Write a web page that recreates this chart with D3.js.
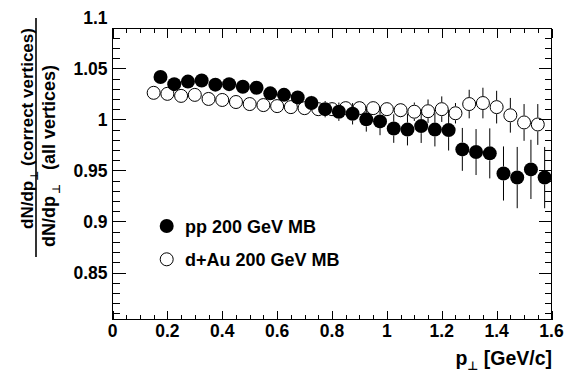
<!DOCTYPE html>
<html><head><meta charset="utf-8">
<script src="https://cdn.jsdelivr.net/npm/d3@7"></script>
<style>body{margin:0;background:#fff}</style>
</head><body>
<svg id="c" width="564" height="377" xmlns="http://www.w3.org/2000/svg"></svg>
<script>
// ---- data ----
const ppPt    = [0.175,0.225,0.275,0.325,0.375,0.425,0.475,0.525,0.575,0.625,0.675,0.725,0.775,0.825,0.875,0.925,0.975,1.025,1.075,1.125,1.175,1.225,1.275,1.325,1.375,1.425,1.475,1.525,1.575];
const ppRatio = [1.0415,1.0345,1.037,1.038,1.034,1.0345,1.032,1.031,1.0255,1.024,1.0215,1.016,1.010,1.0075,1.0055,1.000,0.998,0.991,0.990,0.9934,0.990,0.9895,0.9706,0.968,0.9667,0.947,0.943,0.951,0.943];
const ppErr   = [0.002,0.002,0.002,0.003,0.003,0.003,0.003,0.004,0.004,0.005,0.006,0.007,0.008,0.009,0.0105,0.012,0.0135,0.014,0.0155,0.0165,0.0165,0.020,0.021,0.0225,0.0245,0.0265,0.030,0.029,0.030];
const dauPt    = [0.15,0.20,0.25,0.30,0.35,0.40,0.45,0.50,0.55,0.60,0.65,0.70,0.75,0.80,0.85,0.90,0.95,1.00,1.05,1.10,1.15,1.20,1.25,1.30,1.35,1.40,1.45,1.50,1.55];
const dauRatio = [1.026,1.025,1.023,1.024,1.020,1.019,1.017,1.015,1.014,1.013,1.012,1.011,1.010,1.010,1.011,1.011,1.011,1.010,1.009,1.0075,1.008,1.010,1.006,1.015,1.016,1.012,1.004,0.997,0.995];
const dauErr   = [0.001,0.001,0.001,0.001,0.002,0.002,0.002,0.002,0.002,0.003,0.003,0.003,0.003,0.004,0.004,0.005,0.006,0.006,0.007,0.009,0.0115,0.0125,0.010,0.014,0.015,0.016,0.017,0.018,0.020];
const xTickLabels = ["0","0.2","0.4","0.6","0.8","1","1.2","1.4","1.6"];
const yTickLabels = ["0.85","0.9","0.95","1","1.05","1.1"];
const legendLabels = ["pp 200 GeV MB","d+Au 200 GeV MB"];

// ---- layout ----
const FONT = "'Liberation Sans', Arial, Helvetica, sans-serif";
const svg = d3.select("#c");
const x = d3.scaleLinear().domain([0,1.6]).range([112.5,551.5]);
const y = d3.scaleLinear().domain([0.804,1.089]).range([319.5,28.5]);
const [x0,x1] = x.range(), [yb,yt] = y.range();
const R = 7;

// axes (ticks only)
const xMajor = xTickLabels.map(Number);
const xMinor = d3.range(0,1.6001,0.05).filter(v => !xMajor.some(m => Math.abs(m-v)<1e-6));
const yMajor = yTickLabels.map(Number).filter(v => v>=y.domain()[0] && v<=y.domain()[1]);
const yMinor = d3.range(0.81,1.0891,0.01).filter(v => !yMajor.some(m => Math.abs(m-v)<1e-6));

function axis(gen, tr){
  const g = svg.append("g").attr("transform",tr).call(gen);
  g.select(".domain").remove();
  g.selectAll("line").attr("stroke","#000").attr("stroke-width",1).attr("shape-rendering","crispEdges");
  g.selectAll("text").remove();
}
axis(d3.axisBottom(x).tickValues(xMajor).tickSize(-9).tickFormat(""), `translate(0,${yb})`);
axis(d3.axisBottom(x).tickValues(xMinor).tickSize(-4.5).tickFormat(""), `translate(0,${yb})`);
axis(d3.axisTop(x).tickValues(xMajor).tickSize(-9).tickFormat(""), `translate(0,${yt})`);
axis(d3.axisTop(x).tickValues(xMinor).tickSize(-4.5).tickFormat(""), `translate(0,${yt})`);
axis(d3.axisLeft(y).tickValues(yMajor).tickSize(-13).tickFormat(""), `translate(${x0},0)`);
axis(d3.axisLeft(y).tickValues(yMinor).tickSize(-7).tickFormat(""), `translate(${x0},0)`);
axis(d3.axisRight(y).tickValues(yMajor).tickSize(-13).tickFormat(""), `translate(${x1},0)`);
axis(d3.axisRight(y).tickValues(yMinor).tickSize(-7).tickFormat(""), `translate(${x1},0)`);

svg.append("rect").attr("x",x0).attr("y",yt).attr("width",x1-x0).attr("height",yb-yt)
  .attr("fill","none").attr("stroke","#000").attr("stroke-width",1).attr("shape-rendering","crispEdges");

// tick labels
svg.append("g").selectAll("text").data(xTickLabels).join("text")
  .attr("x",d=>x(+d)).attr("y",337).attr("text-anchor","middle")
  .attr("font-family",FONT).attr("font-weight","bold").attr("font-size",17.5).text(d=>d);
svg.append("g").selectAll("text").data(yTickLabels).join("text")
  .attr("x",107.5).attr("y",d=>y(+d)).attr("dy","0.36em").attr("text-anchor","end")
  .attr("font-family",FONT).attr("font-weight","bold").attr("font-size",17.5).text(d=>d);

// axis titles
const xt = svg.append("text").attr("x",552).attr("y",365).attr("text-anchor","end")
  .attr("font-family",FONT).attr("font-weight","bold").attr("font-size",19.5);
xt.append("tspan").text("p");
xt.append("tspan").attr("dy",5).attr("font-size",12).attr("font-family","'DejaVu Sans'").text("\u22A5");
xt.append("tspan").attr("dy",-5).text(" [GeV/c]");

const gT = svg.append("g").attr("transform","translate(36,137) rotate(-90)");
gT.append("line").attr("x1",-120).attr("x2",119).attr("y1",0).attr("y2",0).attr("stroke","#000").attr("stroke-width",1.6);
const num = gT.append("text").attr("x",-92).attr("y",-3)
  .attr("font-family",FONT).attr("font-weight","bold").attr("font-size",17);
num.append("tspan").text("dN/dp");
num.append("tspan").attr("dy",5).attr("font-size",11).attr("font-family","'DejaVu Sans'").text("\u22A5");
num.append("tspan").attr("dy",-5).text(" (correct vertices)");
const den = gT.append("text").attr("x",-110).attr("y",19)
  .attr("font-family",FONT).attr("font-weight","bold").attr("font-size",18);
den.append("tspan").text("dN/dp");
den.append("tspan").attr("dy",5).attr("dx",2).attr("font-size",11).attr("font-family","'DejaVu Sans'").text("\u22A5");
den.append("tspan").attr("dy",-5).attr("dx",14).text("(all vertices)");

// data: clip to frame
svg.append("clipPath").attr("id","fr").append("rect").attr("x",x0).attr("y",yt).attr("width",x1-x0+2).attr("height",yb-yt);
const plot = svg.append("g").attr("clip-path","url(#fr)");

function series(pt, val, err, filled){
  const d = pt.map((p,i)=>({p, v:val[i], e:err[i]}));
  const g = plot.append("g");
  d.forEach(o=>{
    const cx = x(o.p), cy = y(o.v), top = y(o.v+o.e), bot = y(o.v-o.e);
    if (cy-top > R) g.append("line").attr("x1",cx).attr("x2",cx).attr("y1",top).attr("y2",cy-R).attr("stroke","#000");
    if (bot-cy > R) g.append("line").attr("x1",cx).attr("x2",cx).attr("y1",cy+R).attr("y2",bot).attr("stroke","#000");
  });
  g.selectAll("circle").data(d).join("circle")
    .attr("cx",o=>x(o.p)).attr("cy",o=>y(o.v)).attr("r",filled?R:R-0.5)
    .attr("fill",filled?"#000":"none").attr("stroke","#000").attr("stroke-width",filled?0:1);
}
series(dauPt, dauRatio, dauErr, false);
series(ppPt, ppRatio, ppErr, true);

// legend
const leg = svg.append("g");
legendLabels.forEach((t,i)=>{
  const cy = [226,259.3][i];
  leg.append("circle").attr("cx",166.7).attr("cy",cy).attr("r",i===0?R:R-0.5)
    .attr("fill",i===0?"#000":"none").attr("stroke","#000").attr("stroke-width",i===0?0:1);
  leg.append("text").attr("x",185).attr("y",cy+6.5).attr("font-family",FONT).attr("font-weight","bold")
    .attr("font-size",18).text(t);
});
</script>
</body></html>
